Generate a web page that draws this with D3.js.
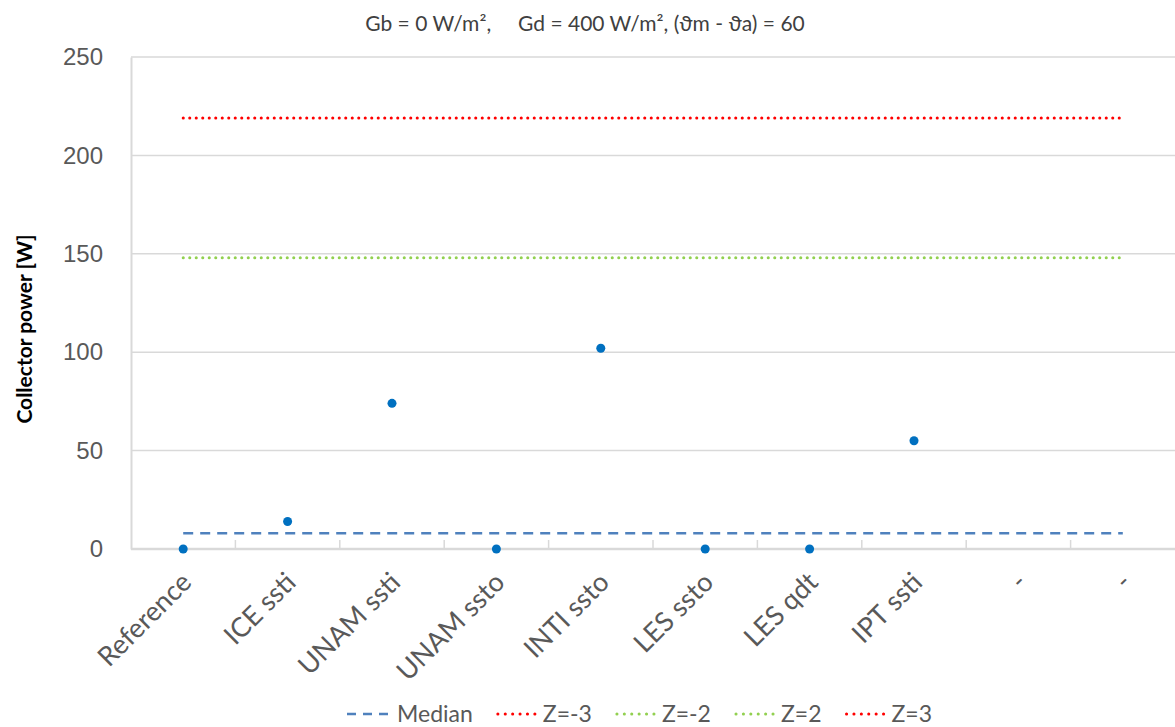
<!DOCTYPE html>
<html>
<head>
<meta charset="utf-8">
<script src="https://cdn.jsdelivr.net/npm/d3@7"></script>
<style>
  body { margin: 0; background: #fff; }
  svg { font-family: Lato, "Open Sans", sans-serif; }
</style>
</head>
<body>
<div id="chart"></div>
<script>
// chart data
var categories = ["Reference", "ICE ssti", "UNAM ssti", "UNAM ssto", "INTI ssto", "LES ssto", "LES qdt", "IPT ssti", "-", "-"];
var values = [0, 14, 74, 0, 102, 0, 0, 55, null, null];
var median = 8;
var zLines = [
  {name: "Z=-3", value: -202, color: "#ff0000"},
  {name: "Z=-2", value: -132, color: "#92d050"},
  {name: "Z=2", value: 148, color: "#92d050"},
  {name: "Z=3", value: 219, color: "#ff0000"}
];
var yTicks = [0, 50, 100, 150, 200, 250];

var width = 1175, height = 727;
var margin = {top: 57, right: 0, bottom: 178, left: 131};
var innerW = width - margin.left - margin.right;
var innerH = height - margin.top - margin.bottom;

var svg = d3.select("#chart").append("svg")
    .attr("width", width)
    .attr("height", height);

var g = svg.append("g")
    .attr("transform", "translate(" + margin.left + "," + margin.top + ")");

var x = d3.scaleBand()
    .domain(d3.range(categories.length))
    .range([0, innerW]);

var y = d3.scaleLinear()
    .domain([0, 250])
    .range([innerH, 0]);

svg.append("defs").append("clipPath").attr("id", "plot")
  .append("rect").attr("width", innerW).attr("height", innerH);

// gridlines
g.selectAll(".grid").data(yTicks.slice(1)).enter().append("line")
    .attr("x1", 0).attr("x2", innerW)
    .attr("y1", d => y(d)).attr("y2", d => y(d))
    .attr("stroke", "#d9d9d9").attr("stroke-width", 1.5);

// y axis
var yAxis = g.append("g")
    .call(d3.axisLeft(y).tickValues(yTicks).tickSize(0).tickPadding(28));
yAxis.select(".domain").attr("stroke", "#d9d9d9").attr("stroke-width", 2);
yAxis.selectAll("text").attr("fill", "#595959").style("font-size", "24px");

// x axis
var xAxis = g.append("g").attr("transform", "translate(0," + innerH + ")");
xAxis.append("line").attr("x1", 0).attr("x2", innerW)
    .attr("stroke", "#d9d9d9").attr("stroke-width", 2.5);
xAxis.selectAll(".xtick").data(d3.range(1, categories.length)).enter().append("line")
    .attr("x1", d => x(d)).attr("x2", d => x(d))
    .attr("y1", 0).attr("y2", -9)
    .attr("stroke", "#d9d9d9").attr("stroke-width", 1.5);
xAxis.selectAll(".xlabel").data(categories).enter().append("text")
    .attr("transform", (d, i) => "translate(" + (x(i) + x.bandwidth() / 2 + 10) + ",35) rotate(-45)")
    .attr("text-anchor", "end")
    .attr("fill", "#595959")
    .style("font-size", "27px")
    .text(d => d);

// reference lines
var lineX1 = x(0) + x.bandwidth() / 2;
var lineX2 = x(categories.length - 1) + x.bandwidth() / 2;
var lines = g.append("g").attr("clip-path", "url(#plot)");
lines.append("line")
    .attr("x1", lineX1).attr("x2", lineX2)
    .attr("y1", y(median)).attr("y2", y(median))
    .attr("stroke", "#4f81bd").attr("stroke-width", 2.5)
    .attr("stroke-dasharray", "10,7");
lines.selectAll(".z").data(zLines).enter().append("line")
    .attr("x1", lineX1).attr("x2", lineX2)
    .attr("y1", d => y(d.value)).attr("y2", d => y(d.value))
    .attr("stroke", d => d.color).attr("stroke-width", 3)
    .attr("stroke-linecap", "round")
    .attr("stroke-dasharray", "0.1,6.4");

// points
g.selectAll(".dot").data(values.map((v, i) => ({v: v, i: i})).filter(d => d.v !== null))
  .enter().append("circle")
    .attr("cx", d => x(d.i) + x.bandwidth() / 2)
    .attr("cy", d => y(d.v))
    .attr("r", 4.5)
    .attr("fill", "#0070c0");

// y title
svg.append("text")
    .attr("transform", "translate(32,329) rotate(-90)")
    .attr("text-anchor", "middle")
    .style("font-size", "21px").style("font-weight", "bold")
    .attr("fill", "#000")
    .text("Collector power [W]");

// title
svg.append("text")
    .attr("x", 585).attr("y", 31)
    .attr("text-anchor", "middle")
    .attr("fill", "#404040")
    .style("font-size", "21px")
    .attr("xml:space", "preserve")
    .text("Gb = 0 W/m²,     Gd = 400 W/m², (ϑm - ϑa) = 60");

// legend
var legendItems = [{name: "Median", color: "#4f81bd", dash: "9,7", w: 2.5, cap: "butt"}]
  .concat(zLines.map(d => ({name: d.name, color: d.color, dash: "0.1,7.3", w: 3, cap: "round"})));
var lx = 347;
var legend = svg.append("g").attr("transform", "translate(0,714)");
legendItems.forEach(function(d) {
  legend.append("line")
      .attr("x1", lx + (d.cap == "round" ? 5 : 0)).attr("x2", lx + 46)
      .attr("stroke", d.color).attr("stroke-width", d.w)
      .attr("stroke-linecap", d.cap)
      .attr("stroke-dasharray", d.dash);
  var t = legend.append("text")
      .attr("x", lx + 50).attr("dy", "0.35em")
      .attr("fill", "#595959")
      .style("font-size", "23px")
      .text(d.name);
  lx += 50 + t.node().getComputedTextLength() + 20;
});
</script>
</body>
</html>
